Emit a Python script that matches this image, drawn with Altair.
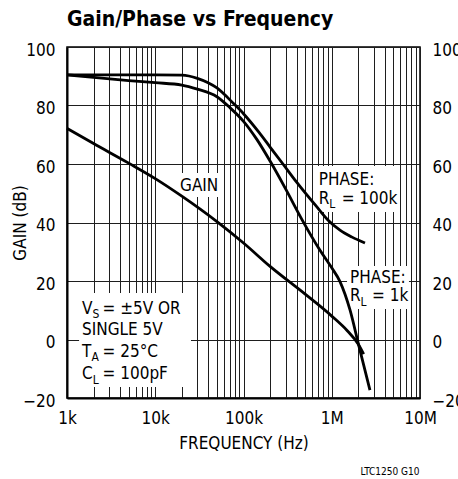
import altair as alt
import pandas as pd

# ---- curve readings -------------------------------------------------------
gain_freq = [1e3, 2e3, 5e3, 1e4, 2e4, 5e4, 1e5, 2e5, 5e5, 1e6, 1.5e6, 2e6, 2.3e6]
gain_db = [72.2, 67.0, 60.3, 55.0, 49.0, 40.3, 33.0, 25.0, 15.5, 8.0, 3.0, -1.6, -5.0]

phase100k_freq = [1e3, 1e4, 2e4, 3e4, 5e4, 7.7e4, 1e5, 1.5e5, 2e5, 2.8e5, 4e5,
                  6.75e5, 9.1e5, 1.24e6, 1.7e6, 2.38e6]
phase100k_deg = [90.5, 90.5, 90.4, 89.3, 86.0, 80.7, 77.2, 70.8, 65.8, 60.0, 53.8,
                 45.4, 40.8, 37.4, 35.0, 33.0]

phase1k_freq = [1e3, 2e3, 5e3, 1e4, 2e4, 3e4, 5e4, 7e4, 1e5, 1.41e5, 2e5, 3e5,
                4.6e5, 7.36e5, 1e6, 1.24e6, 1.61e6, 2.0e6, 2.71e6]
phase1k_deg = [90.5, 89.6, 88.5, 87.8, 87.0, 85.6, 83.0, 79.3, 74.6, 68.5, 61.0, 51.5,
               41.0, 30.5, 24.5, 19.8, 10.1, -1.4, -17.3]

# ---- axes ----------------------------------------------------------------
decades = [1e3, 1e4, 1e5, 1e6, 1e7]
decade_labels = ["1k", "10k", "100k", "1M", "10M"]
y_ticks = [-20, 0, 20, 40, 60, 80, 100]

W, H = 353, 351
PX_DEC = W / 4.0          # pixels per decade
PX_DB = H / 120.0         # pixels per dB
FONT = "DejaVu Sans Condensed, Liberation Sans Narrow, sans-serif"
FS = 17                   # main text size
FS_SUB = 12               # subscript size


def right_of(f, px):
    return f * 10 ** (px / PX_DEC)


def below(v, px):
    return v - px / PX_DB


# ---- annotation text (label, freq, level, font size) ----------------------
cf = 1480.0
ann = [
    ("V", cf, 8.8, FS), ("S", right_of(cf, 10.5), below(8.8, 4.3), FS_SUB),
    ("= ±5V OR", right_of(cf, 20.5), 8.8, FS),
    ("SINGLE 5V", cf, 1.45, FS),
    ("T", cf, -6.0, FS), ("A", right_of(cf, 9.5), below(-6.0, 4.3), FS_SUB),
    ("= 25°C", right_of(cf, 20.5), -6.0, FS),
    ("C", cf, -13.6, FS), ("L", right_of(cf, 10.6), below(-13.6, 4.3), FS_SUB),
    ("= 100pF", right_of(cf, 20.5), -13.6, FS),
    ("GAIN", 19100.0, 50.9, FS),
    ("PHASE:", 711e3, 52.8, FS), ("R", 711e3, 46.3, FS),
    ("L", right_of(711e3, 10.6), below(46.3, 4.3), FS_SUB),
    ("= 100k", right_of(711e3, 23.0), 46.3, FS),
    ("PHASE:", 1.61e6, 19.4, FS), ("R", 1.61e6, 13.06, FS),
    ("L", right_of(1.61e6, 10.6), below(13.06, 4.3), FS_SUB),
    ("= 1k", right_of(1.61e6, 22.0), 13.06, FS),
]
ann_df = pd.DataFrame(ann, columns=["t", "f", "v", "fs"])

# white panels behind the labels
box_f0 = [17.2e3, 630e3, 1.49e6, 1.37e3]
box_f1 = [55.6e3, 5.35e6, 7.5e6, 25.4e3]
box_v0 = [48.7, 43.6, 10.4, -16.2]
box_v1 = [56.9, 59.3, 25.1, 15.9]
box_df = pd.DataFrame({"f0": box_f0, "f1": box_f1, "v0": box_v0, "v1": box_v1})

gain_df = pd.DataFrame({"freq": gain_freq, "val": gain_db})
phase_df = pd.concat([
    pd.DataFrame({"freq": phase100k_freq, "val": phase100k_deg, "series": "RL=100k"}),
    pd.DataFrame({"freq": phase1k_freq, "val": phase1k_deg, "series": "RL=1k"}),
])

# ---- scales / encodings --------------------------------------------------
grid_vals = [m * d for d in decades[:-1] for m in range(1, 10)] + [1e7]
label_expr = " : ".join(
    f"datum.value == {int(d)} ? '{l}'" for d, l in zip(decades, decade_labels)
) + " : ''"

x_scale = alt.Scale(type="log", domain=[1e3, 1e7], nice=False)
x_axis = alt.Axis(
    values=grid_vals, labelExpr=label_expr, grid=True, ticks=False,
    domain=True, domainColor="black", domainWidth=2,
    labelPadding=12, labelFlush=False, labelOverlap=False, labelBound=False,
    title="FREQUENCY (Hz)", titleX=W / 2, titleY=50, titleBaseline="alphabetic",
)
y_scale = alt.Scale(domain=[-20, 100], nice=False, zero=False)
y_left = alt.Axis(
    values=y_ticks, grid=True, ticks=False, domain=True, domainColor="black",
    domainWidth=2, labelPadding=12, labelOffset=3, title="GAIN (dB)",
    titleX=-47, titleY=H / 2, titleBaseline="middle",
)
y_right = alt.Axis(
    values=y_ticks, grid=False, ticks=False, domain=False, orient="right",
    labelPadding=12, labelOffset=3, labelAlign="left", title=None,
)


def X(field):
    return alt.X(field, type="quantitative", scale=x_scale, axis=x_axis)


def YL(field):
    return alt.Y(field, type="quantitative", scale=y_scale, axis=y_left)


boxes = alt.Chart(box_df).mark_rect(color="white").encode(
    x=X("f0"), x2="f1", y=YL("v0"), y2="v1"
)

gain_line = alt.Chart(gain_df).mark_line(
    color="black", strokeWidth=2.8, interpolate="monotone"
).encode(x=X("freq"), y=YL("val"))

labels = alt.Chart(ann_df).mark_text(
    align="left", baseline="alphabetic", font=FONT, color="black"
).encode(
    x=X("f"), y=YL("v"), text="t:N",
    size=alt.Size("fs:Q", scale=None, legend=None),
)

left_group = alt.layer(boxes, gain_line, labels)

phase_lines = alt.Chart(phase_df).mark_line(
    color="black", strokeWidth=2.8, interpolate="monotone"
).encode(
    x=X("freq"),
    y=alt.Y("val:Q", scale=y_scale, axis=y_right),
    detail="series:N",
)

one = pd.DataFrame({"k": [0]})
heading = alt.Chart(one).mark_text(
    font=FONT, fontSize=21, fontWeight="bold", align="left",
    baseline="alphabetic", color="black",
).encode(x=alt.value(0), y=alt.value(-21), text=alt.value("Gain/Phase vs Frequency"))

footnote = alt.Chart(one).mark_text(
    font=FONT, fontSize=10, align="center", baseline="alphabetic", color="black"
).encode(x=alt.value(323), y=alt.value(428), text=alt.value("LTC1250 G10"))

chart = (
    alt.layer(left_group, phase_lines, heading, footnote)
    .resolve_axis(y="independent")
    .properties(
        width=W, height=H,
        autosize=alt.AutoSizeParams(type="none"),
        padding={"left": 67, "top": 47, "right": 38, "bottom": 81},
    )
    .configure_view(stroke="black", strokeWidth=1.5)
    .configure_axis(
        gridColor="#1e1e1e", gridWidth=1, gridOpacity=1,
        labelFont=FONT, labelFontSize=FS, labelColor="black",
        titleFont=FONT, titleFontSize=FS, titleFontWeight="normal", titleColor="black",
    )
)

chart.save("out.html", embed_options={"renderer": "svg", "actions": False})
